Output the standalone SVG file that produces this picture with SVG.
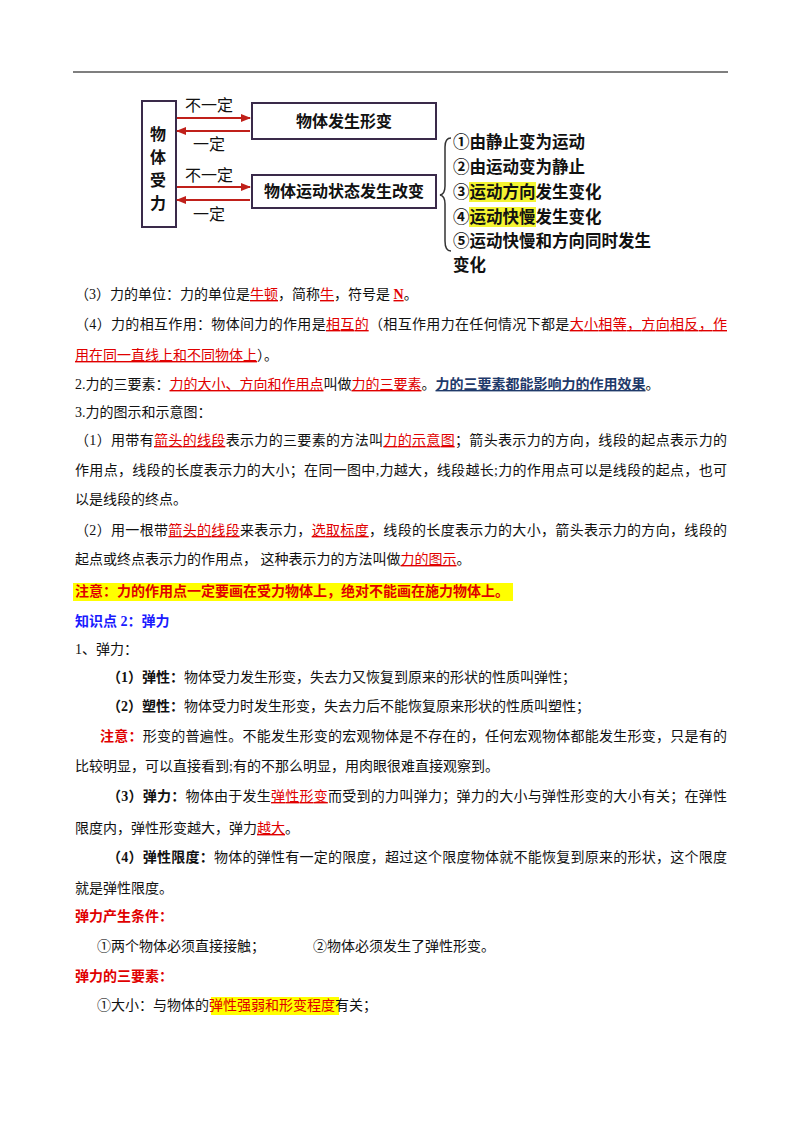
<svg xmlns="http://www.w3.org/2000/svg" width="800" height="1132" viewBox="0 0 800 1132">
<defs>
<style>
text{font-family:"Liberation Serif","Noto Sans CJK SC",serif;font-size:14px;fill:#111}
.d{font-family:"Noto Sans CJK SC",sans-serif;font-size:16px;font-weight:bold;fill:#111}
.l{font-size:16.5px}
.r{fill:#e00000;text-decoration:underline}
.rb{fill:#e00000;font-weight:bold}
.b{font-weight:bold}
.box{fill:#fff;stroke:#3a2a4a;stroke-width:2}
.ar{stroke:#c0201a;stroke-width:2;fill:none}
</style>
<marker id="ah" viewBox="0 0 10 10" refX="9" refY="5" markerWidth="5" markerHeight="5" orient="auto-start-reverse"><path d="M0,1 L10,5 L0,9 z" fill="#c0201a"/></marker>
</defs>
<rect width="800" height="1132" fill="#fff"/>
<line x1="73" y1="72" x2="728" y2="72" stroke="#000" stroke-width="1.2"/>
<g id="n-force"><rect class="box" x="142" y="101" width="34" height="126"/><text class="d" x="150" y="140">物</text><text class="d" x="150" y="163">体</text><text class="d" x="150" y="186">受</text><text class="d" x="150" y="209">力</text></g>
<g id="n-deform"><rect class="box" x="252" y="103" width="184" height="36"/><text class="d" x="344" y="127" text-anchor="middle">物体发生形变</text></g>
<g id="n-motion"><rect class="box" x="252" y="175" width="184" height="33"/><text class="d" x="344" y="197" text-anchor="middle">物体运动状态发生改变</text></g>
<g id="connectors">
<line class="ar" x1="177" y1="118" x2="250" y2="118" marker-end="url(#ah)"/>
<line class="ar" x1="250" y1="131" x2="177" y2="131" marker-end="url(#ah)"/>
<line class="ar" x1="177" y1="187" x2="250" y2="187" marker-end="url(#ah)"/>
<line class="ar" x1="250" y1="200" x2="177" y2="200" marker-end="url(#ah)"/>
<text class="d" x="185" y="111" style="font-weight:normal">不一定</text>
<text class="d" x="193" y="150" style="font-weight:normal">一定</text>
<text class="d" x="185" y="181" style="font-weight:normal">不一定</text>
<text class="d" x="193" y="220" style="font-weight:normal">一定</text>
</g>
<g id="n-list">
<path d="M451,138 Q445,138 445,147 L445,186 Q445,194 440,195 Q445,196 445,204 L445,241 Q445,251 451,251" fill="none" stroke="#333" stroke-width="1.5"/>
<rect x="469" y="182" width="67" height="20" fill="#f4f432"/>
<rect x="469" y="207" width="67" height="20" fill="#f4f432"/>
<text class="d l" x="453" y="148">①由静止变为运动</text>
<text class="d l" x="453" y="173">②由运动变为静止</text>
<text class="d l" x="453" y="198">③运动方向发生变化</text>
<text class="d l" x="453" y="223">④运动快慢发生变化</text>
<text class="d l" x="453" y="247">⑤运动快慢和方向同时发生</text>
<text class="d l" x="453" y="271">变化</text>
</g>
<text x="75" y="299">（3）力的单位：力的单位是<tspan class="r">牛顿</tspan>，简称<tspan class="r">牛</tspan>，符号是 <tspan class="r" font-weight="bold">N</tspan>。</text>
<text x="75" y="329" textLength="652" lengthAdjust="spacing">（4）力的相互作用：物体间力的作用是<tspan class="r">相互的</tspan>（相互作用力在任何情况下都是<tspan class="r">大小相等，方向相反，作</tspan></text>
<text x="75" y="360"><tspan class="r">用在同一直线上和不同物体上</tspan>）。</text>
<text x="75" y="389">2.力的三要素：<tspan class="r">力的大小、方向和作用点</tspan>叫做<tspan class="r">力的三要素</tspan>。<tspan fill="#1f3a6a" font-weight="bold" text-decoration="underline">力的三要素都能影响力的作用效果</tspan>。</text>
<text x="75" y="417">3.力的图示和示意图：</text>
<text x="75" y="445" textLength="652" lengthAdjust="spacing">（1）用带有<tspan class="r">箭头的线段</tspan>表示力的三要素的方法叫<tspan class="r">力的示意图</tspan>；箭头表示力的方向，线段的起点表示力的</text>
<text x="75" y="475" textLength="652" lengthAdjust="spacing">作用点，线段的长度表示力的大小；在同一图中,力越大，线段越长;力的作用点可以是线段的起点，也可</text>
<text x="75" y="504">以是线段的终点。</text>
<text x="75" y="535" textLength="652" lengthAdjust="spacing">（2）用一根带<tspan class="r">箭头的线段</tspan>来表示力，<tspan class="r">选取标度</tspan>，线段的长度表示力的大小，箭头表示力的方向，线段的</text>
<text x="75" y="564">起点或终点表示力的作用点，  这种表示力的方法叫做<tspan class="r">力的图示</tspan>。</text>
<rect x="73" y="583" width="440" height="18" fill="#ffff00"/>
<text x="75" y="596" class="rb">注意：力的作用点一定要画在受力物体上，绝对不能画在施力物体上。</text>
<text x="75" y="626" font-weight="bold" style="fill:#1a1aff">知识点 2：弹力</text>
<text x="75" y="654">1、弹力：</text>
<text x="107" y="682"><tspan class="b">（1）弹性：</tspan>物体受力发生形变，失去力又恢复到原来的形状的性质叫弹性；</text>
<text x="107" y="711"><tspan class="b">（2）塑性：</tspan>物体受力时发生形变，失去力后不能恢复原来形状的性质叫塑性；</text>
<text x="100" y="741" textLength="627" lengthAdjust="spacing"><tspan class="rb">注意：</tspan>形变的普遍性。不能发生形变的宏观物体是不存在的，任何宏观物体都能发生形变，只是有的</text>
<text x="75" y="771">比较明显，可以直接看到;有的不那么明显，用肉眼很难直接观察到。</text>
<text x="107" y="801" textLength="620" lengthAdjust="spacing"><tspan class="b">（3）弹力：</tspan>物体由于发生<tspan class="r">弹性形变</tspan>而受到的力叫弹力；弹力的大小与弹性形变的大小有关；在弹性</text>
<text x="75" y="833">限度内，弹性形变越大，弹力<tspan class="r">越大</tspan>。</text>
<text x="107" y="862" textLength="620" lengthAdjust="spacing"><tspan class="b">（4）弹性限度：</tspan>物体的弹性有一定的限度，超过这个限度物体就不能恢复到原来的形状，这个限度</text>
<text x="75" y="893">就是弹性限度。</text>
<text x="75" y="921" class="rb">弹力产生条件：</text>
<text x="97" y="951">①两个物体必须直接接触；</text>
<text x="313" y="951">②物体必须发生了弹性形变。</text>
<text x="75" y="981" class="rb">弹力的三要素：</text>
<rect x="211" y="997" width="128" height="18" fill="#ffff00"/>
<text x="97" y="1010">①大小：与物体的<tspan fill="#e00000">弹性强弱和形变程度</tspan>有关；</text>
</svg>
